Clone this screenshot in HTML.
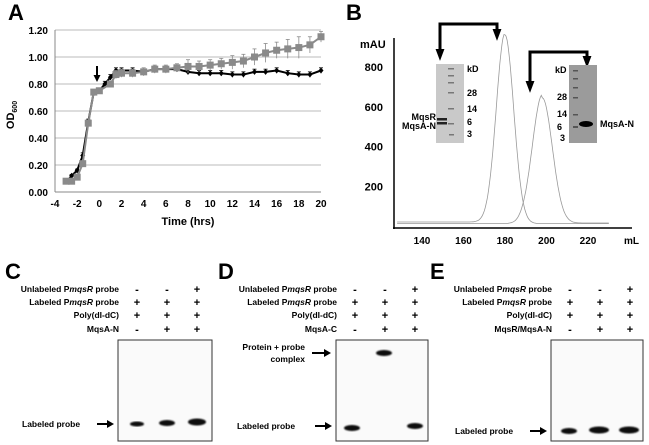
<!DOCTYPE html>
<html><head><meta charset="utf-8">
<style>
body{margin:0;background:#fff;width:649px;height:445px;overflow:hidden;font-family:"Liberation Sans",Arial,sans-serif;}
svg{position:absolute;left:0;top:0}
text{font-family:"Liberation Sans",Arial,sans-serif;font-weight:bold}
</style></head>
<body>
<svg width="649" height="445" viewBox="0 0 649 445" id="fig">
<defs>
<filter id="blur"><feGaussianBlur stdDeviation="0.8"/></filter>
</defs>
<!-- Panel A -->
<text x="8" y="20" font-size="22">A</text>
<g id="panelA"></g>
<text x="14" y="115" font-size="11" transform="rotate(-90 14 115)" text-anchor="middle">OD<tspan font-size="7" dy="3">600</tspan></text>
<text x="188" y="225" font-size="11" text-anchor="middle">Time (hrs)</text>
<g>
<line x1="97" y1="66" x2="97" y2="76" stroke="#000" stroke-width="2"/>
<path d="M93.5,75 L100.5,75 L97,82 z" fill="#000"/>
</g>

<!-- Panel B -->
<text x="346" y="20" font-size="22">B</text>
<g id="panelB"></g>
<text x="360" y="48" font-size="11">mAU</text>
<text x="624" y="244" font-size="10">mL</text>
<path d="M440,54 L440,24 L497,24 L497,34" fill="none" stroke="#000" stroke-width="3"/>
<path d="M437,50 L440,58 L443,50 z M494,30 L497,38 L500,30 z" fill="#000" stroke="#000" stroke-width="2"/>
<path d="M530,86 L530,52 L587,52 L587,60" fill="none" stroke="#000" stroke-width="3"/>
<path d="M527,82 L530,90 L533,82 z M584,57 L587,65 L590,57 z" fill="#000" stroke="#000" stroke-width="2"/>
<!-- gel 1 -->
<rect x="436" y="64" width="28" height="79" fill="#c9c9c9"/>
<g fill="#777"><rect x="448" y="68" width="6" height="1.5"/><rect x="448" y="75" width="6" height="1.5"/><rect x="448" y="82" width="6" height="1.5"/><rect x="448" y="92" width="6" height="1.5"/><rect x="448" y="108" width="6" height="1.5"/><rect x="448" y="123" width="6" height="1.5"/><rect x="449" y="134" width="5" height="1.5"/></g>
<rect x="437" y="118" width="10" height="2.5" fill="#222"/><rect x="437" y="122" width="10" height="2.5" fill="#222"/>
<text x="467" y="72" font-size="9">kD</text>
<text x="467" y="96" font-size="9">28</text><text x="467" y="112" font-size="9">14</text><text x="467" y="125" font-size="9">6</text><text x="467" y="137" font-size="9">3</text>
<text x="436" y="120" font-size="9" text-anchor="end">MqsR</text>
<text x="436" y="129" font-size="9" text-anchor="end">MqsA-N</text>
<!-- gel 2 -->
<rect x="569" y="65" width="28" height="78" fill="#9b9b9b"/>
<g fill="#555"><rect x="573" y="70" width="5" height="1.5"/><rect x="573" y="78" width="5" height="1.5"/><rect x="573" y="87" width="5" height="1.5"/><rect x="573" y="97" width="5" height="1.5"/><rect x="573" y="114" width="5" height="1.5"/><rect x="573" y="126" width="5" height="2"/></g>
<ellipse cx="586" cy="124" rx="7" ry="3" fill="#000"/>
<text x="555" y="73" font-size="9">kD</text>
<text x="557" y="100" font-size="9">28</text><text x="557" y="117" font-size="9">14</text><text x="557" y="130" font-size="9">6</text><text x="560" y="141" font-size="9">3</text>
<text x="600" y="127" font-size="9">MqsA-N</text>

<!-- Panels C D E -->
<g id="emsa"></g>
</svg>
<script>
// ---- Panel A data ----
const timeBlack=[-2.9,-2.5,-2,-1.5,-1,-0.5,0,0.5,1,1.5,2,3,4,5,6,7,8,9,10,11,12,13,14,15,16,17,18,19,20];
const odBlack=[0.08,0.12,0.16,0.27,0.52,0.74,0.75,0.80,0.85,0.90,0.90,0.90,0.89,0.91,0.91,0.91,0.89,0.88,0.88,0.88,0.87,0.87,0.89,0.89,0.90,0.88,0.87,0.87,0.90];
const errBlack=[0.01,0.01,0.01,0.02,0.02,0.02,0.02,0.02,0.02,0.02,0.02,0.02,0.02,0.02,0.02,0.02,0.02,0.02,0.02,0.02,0.02,0.02,0.02,0.02,0.02,0.02,0.02,0.02,0.02];
const timeGray=[-3,-2.5,-2,-1.5,-1,-0.5,0,1,1.5,2,3,4,5,6,7,8,9,10,11,12,13,14,15,16,17,18,19,20];
const odGray=[0.08,0.08,0.11,0.21,0.51,0.74,0.75,0.80,0.87,0.88,0.88,0.89,0.91,0.91,0.92,0.93,0.93,0.94,0.95,0.96,0.97,1.00,1.03,1.05,1.06,1.07,1.09,1.15];
const errGray=[0.01,0.01,0.01,0.01,0.02,0.02,0.02,0.02,0.03,0.03,0.03,0.03,0.03,0.03,0.03,0.05,0.04,0.04,0.04,0.05,0.05,0.06,0.07,0.06,0.07,0.08,0.06,0.04];
const xTicksA=[-4,-2,0,2,4,6,8,10,12,14,16,18,20];
const yTicksA=[0,0.2,0.4,0.6,0.8,1.0,1.2];
// ---- Panel B data ----
const peakVolumes=[180,198];
const peakHeights=[950,630];
const peakWidths=[4.2,4.8];
const xTicksB=[140,160,180,200,220];
const yTicksB=[200,400,600,800];

const NS='http://www.w3.org/2000/svg';
function mk(tag,attrs,parent){const e=document.createElementNS(NS,tag);for(const k in attrs)e.setAttribute(k,attrs[k]);parent.appendChild(e);return e;}
function arrow(parent,x1,x2,y){
  mk('line',{x1:x1,x2:x2-6,y1:y,y2:y,stroke:'#000','stroke-width':2},parent);
  mk('path',{d:`M${x2-7},${y-4} L${x2},${y} L${x2-7},${y+4} z`,fill:'#000'},parent);
}

// Panel A
const gA=document.getElementById('panelA');
const ax=t=>55+(t+4)*(321-55)/24;
const ay=v=>192-v*(192-30)/1.2;
yTicksA.forEach(v=>{
  const l=mk('line',{x1:55,x2:321,y1:ay(v),y2:ay(v),stroke:v===0?'#888':'#bbb','stroke-width':1},gA);
  
  
  const t=mk('text',{x:48,y:ay(v)+4,'font-size':10,'text-anchor':'end'},gA);t.textContent=v.toFixed(2);
  
  
});
mk('line',{x1:55,x2:55,y1:30,y2:192,stroke:'#888'},gA);
xTicksA.forEach(v=>{
  const t=mk('text',{x:ax(v),y:207,'font-size':10,'text-anchor':'middle'},gA);t.textContent=v;
  
  
});
function series(ts,vs,es,color,marker,name){
  const g=mk('g',{},gA);
  
  
  ts.forEach((t,i)=>{const x=ax(t);mk('line',{x1:x,x2:x,y1:ay(vs[i]+es[i]),y2:ay(vs[i]-es[i]),stroke:color,'stroke-width':0.8},g);
    mk('line',{x1:x-2,x2:x+2,y1:ay(vs[i]+es[i]),y2:ay(vs[i]+es[i]),stroke:color,'stroke-width':0.8},g);});
  mk('polyline',{points:ts.map((t,i)=>ax(t)+','+ay(vs[i])).join(' '),fill:'none',stroke:color,'stroke-width':2},g);
  ts.forEach((t,i)=>{const x=ax(t),y=ay(vs[i]);
    let m;
    if(marker==='sq')m=mk('rect',{x:x-3.5,y:y-3.5,width:7,height:7,fill:color},g);
    else m=mk('path',{d:`M${x},${y-3} L${x+2.5},${y} L${x},${y+3} L${x-2.5},${y} z`,fill:color},g);
    
    
  });
}
series(timeBlack,odBlack,errBlack,'#000','dia','series-black');
series(timeGray,odGray,errGray,'#8a8a8a','sq','series-gray');

// Panel B
const gB=document.getElementById('panelB');
const bx=v=>422+(v-140)*(588-422)/80;
const by=v=>226-v*(226-67)/800;
mk('line',{x1:394,x2:394,y1:38,y2:229,stroke:'#000','stroke-width':1.5},gB);
mk('line',{x1:393,x2:632,y1:228,y2:228,stroke:'#000','stroke-width':1.5},gB);
yTicksB.forEach(v=>{const t=mk('text',{x:383,y:by(v)+4,'font-size':11,'text-anchor':'end'},gB);t.textContent=v;
  
  });
xTicksB.forEach(v=>{const t=mk('text',{x:bx(v),y:244,'font-size':10,'text-anchor':'middle'},gB);t.textContent=v;
  
  });
peakVolumes.forEach((c,i)=>{
  const pts=[];
  for(let v=128;v<=230;v+=0.5){
    let y=peakHeights[i]*Math.exp(-((v-c)**2)/(2*peakWidths[i]**2));
    y+= (i===0? (v<c?20:12):(v<c?12+ (v>185?20*(v-185)/13:0):15));
    pts.push(bx(v).toFixed(1)+','+by(y).toFixed(1));
  }
  const p=mk('polyline',{points:pts.join(' '),fill:'none',stroke:'#999','stroke-width':0.8},gB);
  
  
});

// EMSA panels
const gE=document.getElementById('emsa');
const rowY=[292,305,318,332];
const panels=[
 {L:'C',lx:5,bx:118,bw:94,prot:'MqsA-N',signs:[['-','-','+'],['+','+','+'],['+','+','+'],['-','+','+']],bands:[[137,424,7,2.5],[167,423,8,3],[197,422,9,3.5]],probeY:424,probeLbl:[22,115]},
 {L:'D',lx:218,bx:336,bw:92,prot:'MqsA-C',signs:[['-','-','+'],['+','+','+'],['+','+','+'],['-','+','+']],bands:[[352,428,8,3],[384,353,8,3],[415,426,8,3]],probeY:426,probeLbl:[237,333]},
 {L:'E',lx:430,bx:551,bw:92,prot:'MqsR/MqsA-N',signs:[['-','-','+'],['+','+','+'],['+','+','+'],['-','+','+']],bands:[[569,431,8,3],[599,430,10,3.5],[629,430,10,3.5]],probeY:431,probeLbl:[455,548]}
];
const rowLbl=['Unlabeled P<tspan font-style="italic">mqsR</tspan> probe','Labeled P<tspan font-style="italic">mqsR</tspan> probe','Poly(dI-dC)',''];
panels.forEach(p=>{
  const g=mk('g',{},gE);
  
  
  const t=mk('text',{x:p.lx,y:279,'font-size':22},g);t.textContent=p.L;
  const cols=[p.bx+19,p.bx+49,p.bx+79];
  rowY.forEach((y,r)=>{
    const tl=mk('text',{x:p.bx+1,y:y,'font-size':8.5,'text-anchor':'end'},g);
    tl.innerHTML=r===3?p.prot:rowLbl[r];
    
    
    cols.forEach((cx,c)=>{const s=mk('text',{x:cx,y:y+1,'font-size':11,'text-anchor':'middle'},g);s.textContent=p.signs[r][c];});
  });
  const b=mk('rect',{x:p.bx,y:340,width:p.bw,height:101,fill:'#fafafa',stroke:'#333','stroke-width':1},g);
  
  
  p.bands.forEach(bd=>{const e=mk('ellipse',{cx:bd[0],cy:bd[1],rx:bd[2],ry:bd[3],fill:'#111',filter:'url(#blur)'},g);
    
    });
  const lt=mk('text',{x:p.probeLbl[0],y:p.probeY+3,'font-size':8.5},g);lt.textContent='Labeled probe';
  
  
  arrow(g,p.probeLbl[1]-18,p.probeLbl[1]-1,p.probeY);
});
// complex label in D
const c1=mk('text',{x:305,y:350,'font-size':8.5,'text-anchor':'end'},gE);c1.textContent='Protein + probe';


const c2=mk('text',{x:305,y:362,'font-size':8.5,'text-anchor':'end'},gE);c2.textContent='complex';
arrow(gE,312,331,353);
</script>
</body></html>
